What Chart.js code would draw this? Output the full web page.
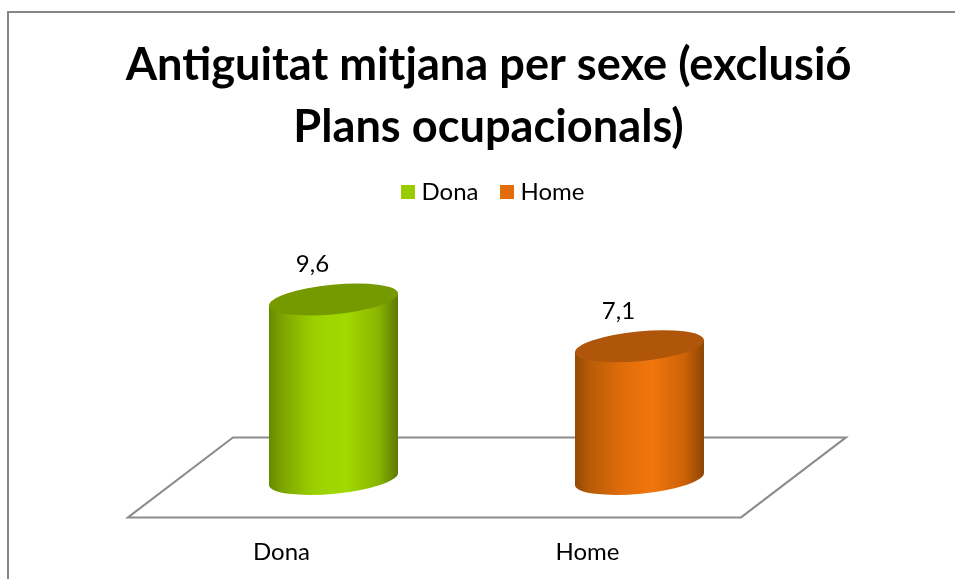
<!DOCTYPE html>
<html><head><meta charset="utf-8">
<style>html,body{margin:0;padding:0;background:#fff}#w{width:955px;height:579px}</style>
<script src="https://cdn.jsdelivr.net/npm/chart.js@4"></script></head>
<body><div id="w"><canvas id="c" width="955" height="579"></canvas></div>
<script>
const categories = ['Dona', 'Home'];
const donaValues = [9.6, null];
const homeValues = [null, 7.1];
const titleLines = ['Antiguitat mitjana per sexe (exclusió', 'Plans ocupacionals)'];

const FONT = 'Lato, Carlito, sans-serif';
const ramps = {
  green: {flat:'#9ACD00', top:'#749A00', stops:[[0,'#668A00'],[.12,'#7FA800'],[.35,'#9CD000'],[.6,'#A2D900'],[.85,'#88B500'],[1,'#5C7A00']]},
  orange:{flat:'#E46C0A', top:'#B0560A', stops:[[0,'#944A05'],[.12,'#B85C08'],[.35,'#DE6B0A'],[.6,'#F2760C'],[.85,'#CC6208'],[1,'#8C4604']]}
};
const BAR_SHARE = 0.4216;
function gradient(chart, idx, ramp){
  const sx = chart.scales.x, cx = sx.getPixelForValue(idx);
  const half = (sx.getPixelForTick(1) - sx.getPixelForTick(0)) * BAR_SHARE / 2;
  const g = chart.ctx.createLinearGradient(cx-half,0,cx+half,0);
  ramp.stops.forEach(s=>g.addColorStop(s[0],s[1]));
  return g;
}
function fill(ramp){
  return c => (c.dataIndex===undefined || !c.chart.chartArea) ? ramp.flat : gradient(c.chart,c.dataIndex,ramp);
}
function ellipse(ctx,x,y,hw,style){
  ctx.beginPath();
  ctx.ellipse(x,y,hw*1.0045,hw*0.229,-0.0976,0,Math.PI*2);
  ctx.fillStyle=style; ctx.fill();
}
// the side wall of the tilted cylinder: same bar, top and bottom edges sloped
function wall(ctx,el){
  const w=el.width/2, d=w*0.093;
  ctx.beginPath();
  ctx.moveTo(el.x-w,el.y+d); ctx.lineTo(el.x+w,el.y-d);
  ctx.lineTo(el.x+w,el.base-d); ctx.lineTo(el.x-w,el.base+d); ctx.closePath();
}
function eachBar(chart,fn){
  chart.data.datasets.forEach((d,i)=>{
    chart.getDatasetMeta(i).data.forEach((el,j)=>{ if(d.data[j]!=null) fn(el,d,j); });
  });
}
const scene = {
  id:'scene',
  afterLayout(chart){ chart.legend.left+=6.5; chart.legend.right+=6.5; },
  beforeDraw(chart){
    const ctx=chart.ctx;
    ctx.save();
    ctx.strokeStyle='#868686'; ctx.lineWidth=2;
    ctx.beginPath(); ctx.moveTo(8,579); ctx.lineTo(8,12); ctx.lineTo(955,12); ctx.stroke();
    ctx.restore();
  },
  beforeDatasetsDraw(chart){
    const ctx=chart.ctx, a=chart.chartArea, b=a.bottom;
    ctx.save();
    ctx.strokeStyle='#8c8c8c'; ctx.lineWidth=2;
    ctx.beginPath();
    ctx.moveTo(a.left-52.5,b+38.4); ctx.lineTo(a.left+52.5,b-41.6);
    ctx.lineTo(a.right+53.5,b-41.6); ctx.lineTo(a.right-51.5,b+38.4); ctx.closePath(); ctx.stroke();
    eachBar(chart,(el,d,j)=>{
      const g=gradient(chart,j,d.ramp);
      ellipse(ctx,el.x,el.base,el.width/2,g);
      wall(ctx,el); ctx.fillStyle=g; ctx.fill();
    });
    ctx.restore();
  },
  beforeDatasetDraw(chart,args){
    const ctx=chart.ctx, d=chart.data.datasets[args.index];
    ctx.save();
    args.meta.data.forEach((el,j)=>{ if(d.data[j]!=null){ wall(ctx,el); ctx.clip(); } });
  },
  afterDatasetDraw(chart){ chart.ctx.restore(); },
  afterDatasetsDraw(chart){
    const ctx=chart.ctx;
    ctx.save();
    eachBar(chart,(el,d,j)=>{
      ellipse(ctx,el.x,el.y,el.width/2,d.ramp.top);
      ctx.fillStyle='#000'; ctx.textAlign='center'; ctx.textBaseline='middle';
      ctx.font='24px '+FONT;
      ctx.fillText(String(d.data[j]).replace('.',','),el.x-21,el.y-35);
    });
    ctx.restore();
  }
};
function square(color){
  const s=document.createElement('canvas'); s.width=14; s.height=14;
  const x=s.getContext('2d'); x.fillStyle=color; x.fillRect(0,0,14,14);
  return s;
}
const hiddenAxis = (position,width) => ({stacked:true,position,min:0,max:14.17,
  grid:{display:false},border:{display:false},ticks:{display:false},afterFit(s){s.width=width;}});
new Chart(document.getElementById('c'),{
  type:'bar',
  data:{labels:categories,datasets:[
    {label:'Dona',data:donaValues,backgroundColor:fill(ramps.green),ramp:ramps.green},
    {label:'Home',data:homeValues,backgroundColor:fill(ramps.orange),ramp:ramps.orange}
  ]},
  plugins:[scene],
  options:{
    responsive:false,animation:false,
    categoryPercentage:1,barPercentage:BAR_SHARE,
    layout:{padding:{left:22,right:0,top:0,bottom:0}},
    scales:{
      x:{stacked:true,grid:{display:false},border:{display:false},
         ticks:{labelOffset:-52,padding:50.6,color:'#000',font:{family:FONT,size:24},maxRotation:0},
         afterFit(s){s.height=100;}},
      y:hiddenAxis('left',158.5),
      yRight:hiddenAxis('right',162.5)
    },
    plugins:{
      tooltip:{enabled:false},
      title:{display:true,text:titleLines,color:'#000',align:'center',
        font:{family:FONT,size:45.2,weight:'bold',lineHeight:1.372},padding:{top:34,bottom:-4}},
      legend:{display:true,position:'top',
        labels:{usePointStyle:true,pointStyleWidth:4,boxHeight:14,color:'#000',padding:26,
          font:{family:FONT,size:24},
          generateLabels(chart){
            return chart.data.datasets.map((d,i)=>({text:d.label,datasetIndex:i,fontColor:'#000',
              pointStyle:square(d.ramp.flat),fillStyle:d.ramp.flat,strokeStyle:d.ramp.flat,lineWidth:0}));
          }}}
    }
  }
});
</script></body></html>
